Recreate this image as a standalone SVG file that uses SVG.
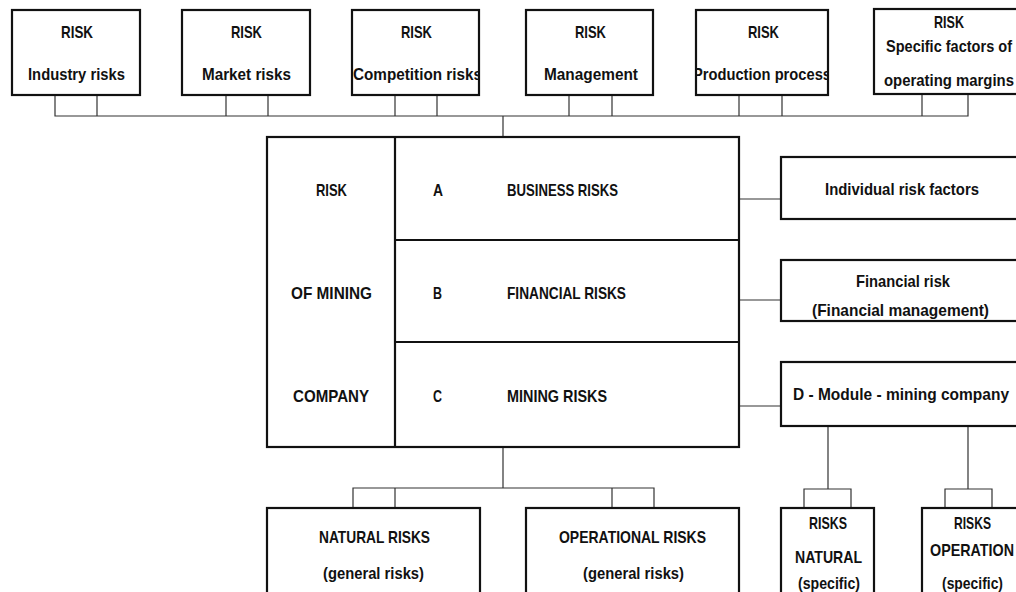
<svg xmlns="http://www.w3.org/2000/svg" width="1016" height="592" viewBox="0 0 1016 592">
<style>
.box{fill:#fff;stroke:#111;stroke-width:2.2}
.ln{fill:none;stroke:#333;stroke-width:1.2}
text{font-family:"Liberation Sans",Arial,sans-serif;font-weight:bold;font-size:17px;fill:#111}
</style>
<defs>
<clipPath id="c3"><rect x="353" y="10" width="126" height="85"/></clipPath>
<clipPath id="c5"><rect x="697" y="10" width="130" height="85"/></clipPath>
</defs>
<rect width="1016" height="592" fill="#fff"/>
<g id="connectors">
<path class="ln" d="M55,95V116H968V95M97,95V116M226,95V116M268,95V116M395,95V116M437,95V116M569,95V116M612,95V116M739,95V116M782,95V116M922,95V116M503,116V137"/>
<path class="ln" d="M739,199H781M739,300H781M739,406H781"/>
<path class="ln" d="M503,447V488M353,508V488H654V508M395,488V508M612,488V508"/>
<path class="ln" d="M828,426V489M804,508V489H851V508M968,426V489M945,508V489H992V508"/>
</g>
<g id="n-industry"><rect class="box" x="12" y="10" width="128" height="85"/><text x="61" y="38" textLength="32" lengthAdjust="spacingAndGlyphs">RISK</text><text x="28" y="80" textLength="97" lengthAdjust="spacingAndGlyphs">Industry risks</text></g>
<g id="n-market"><rect class="box" x="182" y="10" width="128" height="85"/><text x="231" y="38" textLength="31" lengthAdjust="spacingAndGlyphs">RISK</text><text x="202" y="80" textLength="89" lengthAdjust="spacingAndGlyphs">Market risks</text></g>
<g id="n-competition"><rect class="box" x="352" y="10" width="127" height="85"/><text x="401" y="38" textLength="31" lengthAdjust="spacingAndGlyphs">RISK</text><text x="353" y="80" textLength="129" lengthAdjust="spacingAndGlyphs" clip-path="url(#c3)">Competition risks</text></g>
<g id="n-management"><rect class="box" x="526" y="10" width="127" height="85"/><text x="575" y="38" textLength="31" lengthAdjust="spacingAndGlyphs">RISK</text><text x="544" y="80" textLength="94" lengthAdjust="spacingAndGlyphs">Management</text></g>
<g id="n-production"><rect class="box" x="696" y="10" width="132" height="85"/><text x="748" y="38" textLength="31" lengthAdjust="spacingAndGlyphs">RISK</text><text x="693" y="80" textLength="138" lengthAdjust="spacingAndGlyphs" clip-path="url(#c5)">Production process</text></g>
<g id="n-specific"><rect class="box" x="874" y="9" width="160" height="85"/><text x="934" y="28" textLength="30" lengthAdjust="spacingAndGlyphs">RISK</text><text x="886" y="52" textLength="126" lengthAdjust="spacingAndGlyphs">Specific factors of</text><text x="884" y="86" textLength="130" lengthAdjust="spacingAndGlyphs">operating margins</text></g>
<g id="n-main">
<rect class="box" x="267" y="137" width="472" height="310"/>
<path class="box" d="M395,137V447M395,240H739M395,342H739"/>
<text x="316" y="196" textLength="31" lengthAdjust="spacingAndGlyphs">RISK</text>
<text x="291" y="299" textLength="81" lengthAdjust="spacingAndGlyphs">OF MINING</text>
<text x="293" y="402" textLength="76" lengthAdjust="spacingAndGlyphs">COMPANY</text>
<text x="433" y="196" textLength="10" lengthAdjust="spacingAndGlyphs">A</text>
<text x="433" y="299" textLength="9" lengthAdjust="spacingAndGlyphs">B</text>
<text x="433" y="402" textLength="9" lengthAdjust="spacingAndGlyphs">C</text>
<text x="507" y="196" textLength="111" lengthAdjust="spacingAndGlyphs">BUSINESS RISKS</text>
<text x="507" y="299" textLength="119" lengthAdjust="spacingAndGlyphs">FINANCIAL RISKS</text>
<text x="507" y="402" textLength="100" lengthAdjust="spacingAndGlyphs">MINING RISKS</text>
</g>
<g id="n-individual"><rect class="box" x="781" y="157" width="250" height="62"/><text x="825" y="195" textLength="154" lengthAdjust="spacingAndGlyphs">Individual risk factors</text></g>
<g id="n-financial"><rect class="box" x="781" y="260" width="250" height="61"/><text x="856" y="287" textLength="94" lengthAdjust="spacingAndGlyphs">Financial risk</text><text x="812" y="316" textLength="177" lengthAdjust="spacingAndGlyphs">(Financial management)</text></g>
<g id="n-module"><rect class="box" x="781" y="362" width="250" height="64"/><text x="793" y="400" textLength="216" lengthAdjust="spacingAndGlyphs">D - Module - mining company</text></g>
<g id="n-natural"><rect class="box" x="267" y="508" width="213" height="100"/><text x="319" y="543" textLength="111" lengthAdjust="spacingAndGlyphs">NATURAL RISKS</text><text x="323" y="579" textLength="101" lengthAdjust="spacingAndGlyphs">(general risks)</text></g>
<g id="n-operational"><rect class="box" x="526" y="508" width="213" height="100"/><text x="559" y="543" textLength="147" lengthAdjust="spacingAndGlyphs">OPERATIONAL RISKS</text><text x="583" y="579" textLength="101" lengthAdjust="spacingAndGlyphs">(general risks)</text></g>
<g id="n-natural-specific"><rect class="box" x="781" y="508" width="93" height="100"/><text x="809" y="529" textLength="38" lengthAdjust="spacingAndGlyphs">RISKS</text><text x="795" y="563" textLength="67" lengthAdjust="spacingAndGlyphs">NATURAL</text><text x="798" y="589" textLength="62" lengthAdjust="spacingAndGlyphs">(specific)</text></g>
<g id="n-operation-specific"><rect class="box" x="922" y="508" width="120" height="100"/><text x="954" y="529" textLength="37" lengthAdjust="spacingAndGlyphs">RISKS</text><text x="930" y="556" textLength="84" lengthAdjust="spacingAndGlyphs">OPERATION</text><text x="942" y="589" textLength="61" lengthAdjust="spacingAndGlyphs">(specific)</text></g>
</svg>
